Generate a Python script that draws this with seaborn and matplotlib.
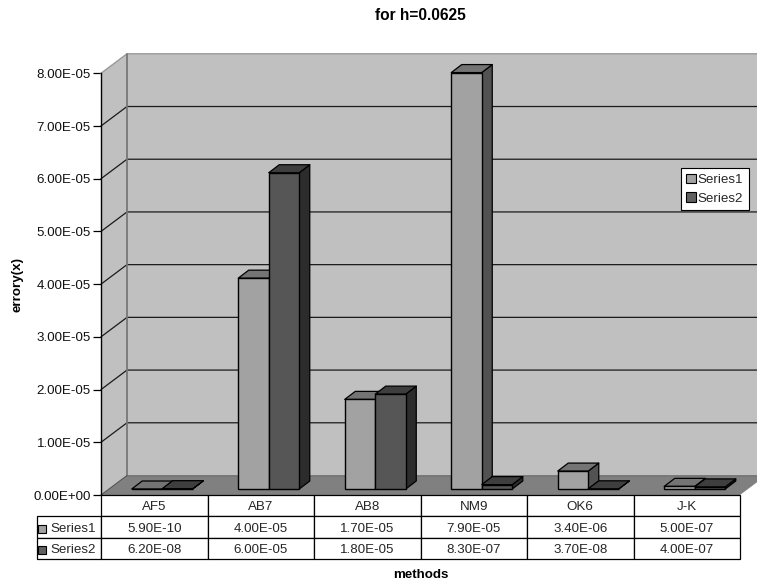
import matplotlib
matplotlib.use("Agg")
import matplotlib.pyplot as plt
from matplotlib.patches import Polygon, Rectangle, Patch
import pandas as pd
import seaborn as sns

methods = ["AF5", "AB7", "AB8", "NM9", "OK6", "J-K"]
series1 = [5.9e-10, 4.0e-5, 1.7e-5, 7.9e-5, 3.4e-6, 5.0e-7]
series2 = [6.2e-8, 6.0e-5, 1.8e-5, 8.3e-7, 3.7e-8, 4.0e-7]
series_names = ["Series1", "Series2"]
y_ticks = [0, 1e-5, 2e-5, 3e-5, 4e-5, 5e-5, 6e-5, 7e-5, 8e-5]

sns.set_theme(style="white")
plt.rcParams["font.family"] = ["Liberation Sans", "DejaVu Sans"]
FS = 9.6
W, H = 757, 586

FRONT = {"Series1": "#A2A2A2", "Series2": "#565656"}
TOP = {"Series1": "#747474", "Series2": "#3E3E3E"}
SIDE = {"Series1": "#525252", "Series2": "#2C2C2C"}
WALL = "#C0C0C0"
FLOOR = "#808080"

# plot frame in pixels: front plane of the oblique box
LEFT, RIGHT, BASE, TOP_Y = 101, 740, 495, 73.3

fig = plt.figure(figsize=(W / 100, H / 100), dpi=100, facecolor="white")
ax = fig.add_axes([LEFT / W, (H - BASE) / H, (RIGHT - LEFT) / W, (BASE - TOP_Y) / H])
ax.patch.set_visible(False)

long = pd.DataFrame({
    "method": methods * 2,
    "value": series1 + series2,
    "series": ["Series1"] * 6 + ["Series2"] * 6,
})
sns.barplot(data=long, x="method", y="value", hue="series", hue_order=series_names,
            palette=FRONT, width=0.573, gap=0, saturation=1, legend=False, ax=ax,
            edgecolor="black", linewidth=1.0)
ax.set_xlim(-0.5, 5.5)
ax.set_ylim(0, 8e-5)

# data units per pixel, for the oblique offsets
ux = 6 / (RIGHT - LEFT)
uy = 8e-5 / (BASE - TOP_Y)


def poly(points, face, edge="none", lw=0.0, z=1.0):
    ax.add_patch(Polygon(points, closed=True, facecolor=face, edgecolor=edge,
                         linewidth=lw, zorder=z, clip_on=False, joinstyle="round"))


# box walls and floor
bx, by = 26 * ux, 19.5 * uy
x0, x1, ymax = -0.5, 5.5, 8e-5
poly([(x0 + bx, by), (x1 + bx, by), (x1 + bx, ymax + by), (x0 + bx, ymax + by)], WALL, z=0.5)
poly([(x0, 0), (x0 + bx, by), (x0 + bx, ymax + by), (x0, ymax)], WALL, z=0.5)
poly([(x0, 0), (x1, 0), (x1 + bx, by), (x0 + bx, by)], FLOOR, z=0.6)

for t in y_ticks[1:-1]:
    ax.plot([x0, x0 + bx, x1 + bx], [t, t + by, t + by], color="#1A1A1A", lw=0.9,
            zorder=0.7, clip_on=False)
ax.plot([x0, x0 + bx, x1 + bx], [ymax, ymax + by, ymax + by], color="#999999", lw=1.0,
        zorder=0.7, clip_on=False)
ax.plot([x0 + bx, x0 + bx, x1 + bx], [ymax + by, by, by], color="#777777", lw=1.3,
        zorder=0.7, clip_on=False)
ax.plot([x0, x0 + bx], [0, by], color="#555555", lw=0.8, zorder=0.7, clip_on=False)

# extrude the seaborn bars into the box
fx, fy = 8 * ux, 6 * uy
dx, dy = 10.5 * ux, 8 * uy
n_cat = len(methods)
for i in range(n_cat):
    for j, name in enumerate(series_names):
        bar = ax.containers[j][i]
        xl = bar.get_x() + fx
        xr = xl + bar.get_width()
        h = bar.get_height() + fy
        bar.set_x(xl)
        bar.set_y(fy)
        bar.set_clip_on(False)
        z = 2 + i + j * 0.1
        bar.set_zorder(z + 0.02)
        poly([(xr, fy), (xr + dx, fy + dy), (xr + dx, h + dy), (xr, h)], SIDE[name],
             "black", 0.9, z)
        poly([(xl, h), (xr, h), (xr + dx, h + dy), (xl + dx, h + dy)], TOP[name],
             "black", 0.9, z + 0.01)

# value axis
sns.despine(ax=ax, top=True, right=True, bottom=True)
ax.spines["left"].set_color("black")
ax.spines["left"].set_linewidth(1.0)
ax.spines["left"].set_zorder(1)
ax.set_yticks(y_ticks)
ax.set_yticklabels([f"{t:.2E}" for t in y_ticks], fontsize=FS, color="#111111")
ax.tick_params(axis="y", left=True, length=5.8, width=0.9, pad=1.5, color="black")
ax.set_xticks([])
ax.set_xlabel("")
ax.set_ylabel("")

# data table beneath the plot
cell_text = [[f"{v:.2E}" for v in series1], [f"{v:.2E}" for v in series2]]
ax_w, ax_h = RIGHT - LEFT, BASE - TOP_Y
label_w, tbl_bottom = 66, 559
table = ax.table(cellText=cell_text, rowLabels=series_names, colLabels=methods,
                 cellLoc="center", rowLoc="left", colWidths=[1 / 6] * 6,
                 bbox=[0, -(tbl_bottom - BASE) / ax_h, 1, (tbl_bottom - BASE) / ax_h])
table.auto_set_font_size(False)
table.set_fontsize(FS)
table.set_zorder(5)
for (r, c), cell in table.get_celld().items():
    cell.set_edgecolor("black")
    cell.set_linewidth(0.9)
    cell.set_facecolor("white")
    cell.get_text().set_verticalalignment("center_baseline")
    if c == -1:
        cell.set_width(label_w / ax_w)
        cell.PAD = 13.5 / label_w


def px_rect(x, y, w, h, face):
    ax.add_patch(Rectangle((-0.5 + (x - LEFT) * ux, (BASE - y - h) * uy), w * ux, h * uy,
                           facecolor=face, edgecolor="black", linewidth=0.8,
                           zorder=6, clip_on=False))


px_rect(38.3, 525, 8, 8, "#A2A2A2")
px_rect(38.3, 546, 8, 8, "#606060")

# legend placed in figure pixels
handles = [Patch(facecolor="#A2A2A2", edgecolor="black", linewidth=0.8, label="Series1"),
           Patch(facecolor="#606060", edgecolor="black", linewidth=0.8, label="Series2")]
leg = ax.legend(handles=handles, loc="upper left",
                bbox_to_anchor=(680.7 / W, 1 - 168 / H), bbox_transform=fig.transFigure,
                fontsize=FS, frameon=True, fancybox=False, framealpha=1, edgecolor="black",
                facecolor="white", borderaxespad=0, borderpad=0.42, handlelength=0.75,
                handleheight=0.75, handletextpad=0.12, labelspacing=0.45)
leg.set_zorder(20)
leg.get_frame().set_linewidth(0.8)

fig.text(420 / W, 1 - 15 / H, "for h=0.0625", ha="center", va="center",
         fontsize=11.2, fontweight="bold", color="black")
fig.text(421 / W, 1 - 575 / H, "methods", ha="center", va="center",
         fontsize=FS, fontweight="bold", color="black")
fig.text(18 / W, 1 - 285 / H, "errory(x)", ha="center", va="center", rotation=90,
         fontsize=FS, fontweight="bold", color="black")

fig.savefig("out.png", dpi=100, facecolor="white")
